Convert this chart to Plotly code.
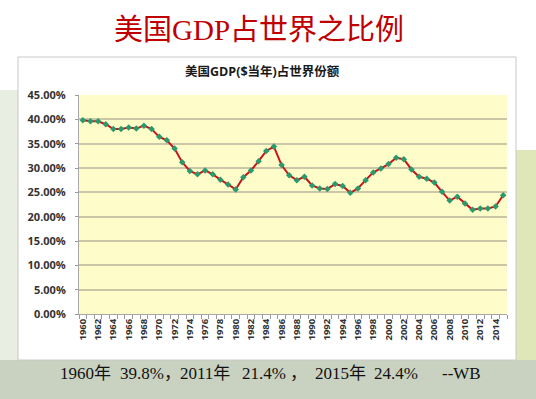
import plotly.graph_objects as go

years = list(range(1960, 2016))
share = [39.8, 39.6, 39.6, 39.0, 38.0, 38.0, 38.3, 38.1, 38.7, 38.0,
         36.4, 35.7, 34.0, 31.2, 29.4, 28.7, 29.5, 28.7, 27.6, 26.6,
         25.6, 28.1, 29.5, 31.4, 33.5, 34.4, 30.6, 28.5, 27.5, 28.2,
         26.4, 25.8, 25.7, 26.7, 26.3, 24.9, 25.8, 27.5, 29.1, 29.9,
         30.8, 32.1, 31.8, 29.7, 28.2, 27.8, 27.0, 25.1, 23.3, 24.1,
         22.7, 21.4, 21.7, 21.7, 22.1, 24.4]
tick_years = years[::2]
y_ticks = [0, 5, 10, 15, 20, 25, 30, 35, 40, 45]

main_title = "美国GDP占世界之比例"
chart_title = "美国GDP($当年)占世界份额"
notes = ["1960年", "39.8%，", "2011年", "21.4%", "，", "2015年", "24.4%", "--WB"]
note_x = [58, 118, 178, 240, 288, 313, 372, 440]

W, H = 536, 399
L, R, T, B = 79, 507, 95, 314
pw, ph = R - L, B - T

def px(x):
    return (x - L) / pw

def py(y):
    return (B - y) / ph

fig = go.Figure()
fig.add_trace(go.Scatter(
    x=years, y=share, mode="lines+markers",
    line=dict(color="#c4161c", width=2),
    marker=dict(symbol="diamond", size=5, color="#2a9a6c"),
    hoverinfo="skip"))

shapes = [
    dict(type="rect", xref="paper", yref="paper", x0=px(0), x1=px(W), y0=py(H), y1=py(360),
         fillcolor="#c9d2c0", line_width=0, layer="below"),
    dict(type="rect", xref="paper", yref="paper", x0=px(0), x1=px(18), y0=py(360), y1=py(90),
         fillcolor="#e9eee2", line_width=0, layer="below"),
    dict(type="rect", xref="paper", yref="paper", x0=px(516), x1=px(W), y0=py(360), y1=py(150),
         fillcolor="#dfe6b8", line_width=0, layer="below"),
    dict(type="rect", xref="paper", yref="paper", x0=px(18), x1=px(516), y0=py(360), y1=py(57),
         fillcolor="white", line=dict(color="#c8c8c8", width=1), layer="below"),
    dict(type="rect", xref="paper", yref="paper", x0=0, x1=1, y0=0, y1=1,
         fillcolor="#fefdc9", line_width=0, layer="below"),
]

annotations = [
    dict(text=main_title, x=px(259), y=py(30), xref="paper", yref="paper",
         showarrow=False, xanchor="center", yanchor="middle",
         font=dict(family="Liberation Serif, Noto Sans CJK SC", size=29, color="#c00000")),
    dict(text=chart_title, x=px(262), y=py(72), xref="paper", yref="paper",
         showarrow=False, xanchor="center", yanchor="middle",
         font=dict(family="Open Sans, Noto Sans CJK SC", size=12.5, color="#1a1a1a", weight="bold")),
]
for t, xx in zip(notes, note_x):
    annotations.append(dict(text=t, x=px(xx), y=py(373), xref="paper", yref="paper",
                            showarrow=False, xanchor="left", yanchor="middle",
                            font=dict(family="Liberation Serif, Noto Sans CJK SC", size=17, color="#111111")))

fig.update_layout(
    template="none",
    width=W, height=H,
    margin=dict(l=L, r=W - R, t=T, b=H - B, pad=0),
    paper_bgcolor="white", plot_bgcolor="rgba(0,0,0,0)",
    showlegend=False,
    shapes=shapes, annotations=annotations,
    xaxis=dict(range=[1959.5, 2015.5], tickmode="array", tickvals=tick_years,
               ticktext=[str(y) for y in tick_years], tickangle=-90,
               ticks="", showgrid=False, zeroline=False, automargin=False,
               showline=True, linecolor="#a8a8a8", linewidth=1,
               tickfont=dict(family="Open Sans", size=9.5, color="#333333", weight="bold"),
               minor=dict(tick0=1959.5, dtick=1, ticks="outside", ticklen=4,
                          tickcolor="#999999", showgrid=False)),
    yaxis=dict(range=[0, 45], tickmode="array", tickvals=y_ticks,
               ticktext=[f"{v:.2f}%" for v in y_ticks],
               ticks="outside", ticklen=3, tickcolor="#999999",
               ticklabelstandoff=7, automargin=False,
               showgrid=True, gridcolor="#cbc6a6", gridwidth=1.5,
               zeroline=False, showline=True, linecolor="#a8a8a8", linewidth=1,
               tickfont=dict(family="Open Sans", size=11, color="#333333", weight="bold")),
)

fig.write_html("out.html", config={"displayModeBar": False},
               post_script="document.body.style.margin='0';")
